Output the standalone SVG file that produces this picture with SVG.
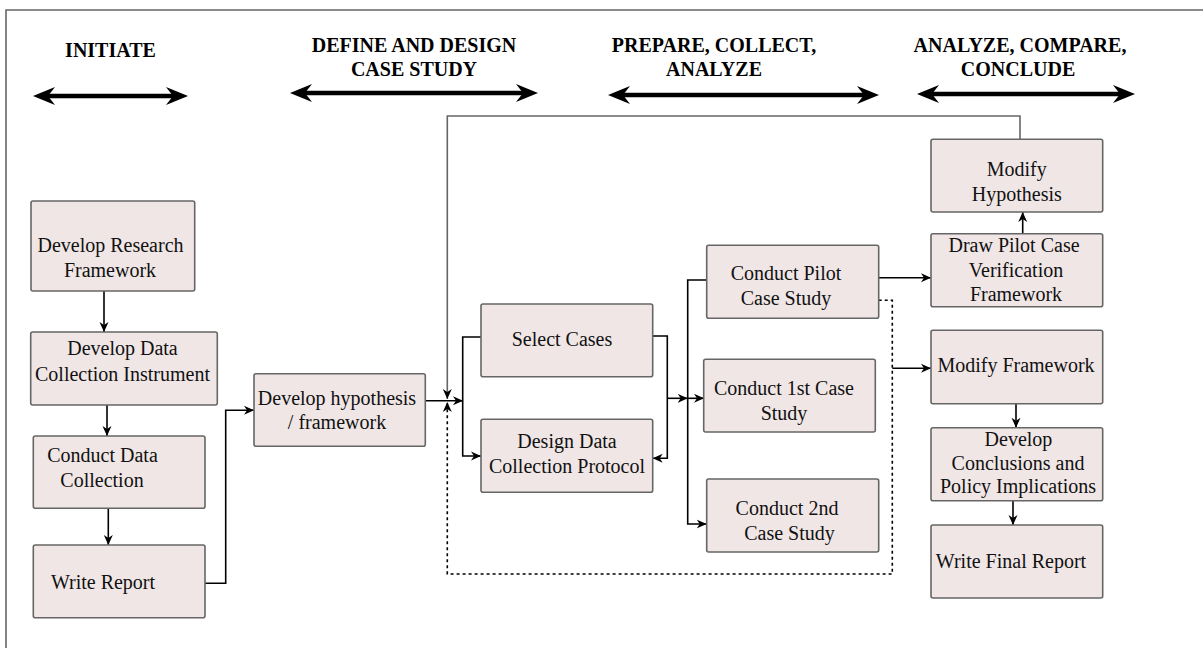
<svg xmlns="http://www.w3.org/2000/svg" width="1203" height="648" viewBox="0 0 1203 648">
<style>
.box{fill:#f0e6e6;stroke:#666;stroke-width:1.6}
.t{font-family:"Liberation Serif","Times New Roman",serif;font-size:20px;fill:#111;text-anchor:middle}
.h{font-family:"Liberation Serif","Times New Roman",serif;font-size:20px;font-weight:bold;fill:#000;text-anchor:middle}
.c{fill:none;stroke:#000;stroke-width:1.6}
.g{fill:none;stroke:#666;stroke-width:1.6}
.d{fill:none;stroke:#000;stroke-width:1.6;stroke-dasharray:3 3}
.big{fill:none;stroke:#000;stroke-width:4.5}
</style>
<defs>
<marker id="a" markerUnits="userSpaceOnUse" markerWidth="12" markerHeight="10" viewBox="0 -5 12 10" refX="10" refY="0" orient="auto">
<path d="M0,-4.5 L10,0 L0,4.5 L3,0 z" fill="#000"/>
</marker>
<marker id="b" markerUnits="userSpaceOnUse" markerWidth="24" markerHeight="20" viewBox="0 -10 24 20" refX="7" refY="0" orient="auto-start-reverse">
<path d="M0,-9 L22,0 L0,9 L7,0 z" fill="#000"/>
</marker>
</defs>
<rect x="0" y="0" width="1203" height="648" fill="#fff"/>
<path d="M6,648 V10 H1203" fill="none" stroke="#666" stroke-width="1.6"/>

<g id="headers">
<text class="h" x="110.5" y="57">INITIATE</text>
<text class="h" x="414" y="52">DEFINE AND DESIGN</text>
<text class="h" x="414" y="76">CASE STUDY</text>
<text class="h" x="714" y="52">PREPARE, COLLECT,</text>
<text class="h" x="714" y="76">ANALYZE</text>
<text class="h" x="1020" y="52">ANALYZE, COMPARE,</text>
<text class="h" x="1018" y="76">CONCLUDE</text>
<line class="big" x1="48" y1="96" x2="173" y2="96" marker-start="url(#b)" marker-end="url(#b)"/>
<line class="big" x1="305" y1="93" x2="523" y2="93" marker-start="url(#b)" marker-end="url(#b)"/>
<line class="big" x1="623" y1="95" x2="864" y2="95" marker-start="url(#b)" marker-end="url(#b)"/>
<line class="big" x1="932" y1="94" x2="1120" y2="94" marker-start="url(#b)" marker-end="url(#b)"/>
</g>

<g id="connectors">
<path class="c" d="M104,291 V332" marker-end="url(#a)"/>
<path class="c" d="M107,405 V436" marker-end="url(#a)"/>
<path class="c" d="M108.3,508.3 V545" marker-end="url(#a)"/>
<path class="c" d="M205,583.3 H225.7 V410.3 H254" marker-end="url(#a)"/>
<path class="c" d="M425.3,400.7 H463" marker-end="url(#a)"/>
<path class="c" d="M481,337 H462.7 V456 H481" marker-end="url(#a)"/>
<path class="c" d="M652.7,336 H667.3 V458.3 H652.7" marker-end="url(#a)"/>
<path class="c" d="M667.3,398.3 H687.7" marker-end="url(#a)"/>
<path class="c" d="M687.7,398.3 H704" marker-end="url(#a)"/>
<path class="c" d="M706.7,280 H687.7 V524 H706.7" marker-end="url(#a)"/>
<path class="c" d="M878.7,277.7 H931" marker-end="url(#a)"/>
<path class="d" d="M878.7,300.3 H892.3 V574 H447.3 V402" marker-end="url(#a)"/>
<path class="c" d="M892.3,368.3 H931" marker-end="url(#a)"/>
<path class="c" d="M1022.7,233.7 V212" marker-end="url(#a)"/>
<path class="g" d="M1020,139.3 V116 H447.3 V399" marker-end="url(#a)"/>
<path class="c" d="M1016,403.7 V427.7" marker-end="url(#a)"/>
<path class="c" d="M1013,500.7 V525" marker-end="url(#a)"/>
</g>

<g id="n1"><rect class="box" x="31" y="201" width="163.7" height="90" rx="2"/>
<text class="t" x="110.5" y="252.3">Develop Research</text><text class="t" x="110" y="277.3">Framework</text></g>
<g id="n2"><rect class="box" x="30.7" y="332" width="186.6" height="73" rx="2"/>
<text class="t" x="122.5" y="355">Develop Data</text><text class="t" x="122.5" y="380.7">Collection Instrument</text></g>
<g id="n3"><rect class="box" x="33.3" y="436" width="171.7" height="72.3" rx="2"/>
<text class="t" x="102.5" y="461.7">Conduct Data</text><text class="t" x="102" y="486.7">Collection</text></g>
<g id="n4"><rect class="box" x="33.3" y="545" width="171.7" height="72.7" rx="2"/>
<text class="t" x="103" y="589.3">Write Report</text></g>
<g id="n5"><rect class="box" x="254" y="373.7" width="171.3" height="72.6" rx="2"/>
<text class="t" x="337" y="405">Develop hypothesis</text><text class="t" x="337" y="429.3">/ framework</text></g>
<g id="n6"><rect class="box" x="481" y="304" width="171.7" height="72.7" rx="2"/>
<text class="t" x="562" y="345.7">Select Cases</text></g>
<g id="n7"><rect class="box" x="481" y="419.3" width="171.7" height="73" rx="2"/>
<text class="t" x="567" y="448.3">Design Data</text><text class="t" x="567" y="473.3">Collection Protocol</text></g>
<g id="n8"><rect class="box" x="706.7" y="245.3" width="172" height="73" rx="2"/>
<text class="t" x="786" y="280">Conduct Pilot</text><text class="t" x="786" y="305">Case Study</text></g>
<g id="n9"><rect class="box" x="703.7" y="359.3" width="171.6" height="72.7" rx="2"/>
<text class="t" x="784" y="395">Conduct 1st Case</text><text class="t" x="784" y="420">Study</text></g>
<g id="n10"><rect class="box" x="706.7" y="479" width="172" height="73" rx="2"/>
<text class="t" x="787" y="515">Conduct 2nd</text><text class="t" x="789.5" y="540">Case Study</text></g>
<g id="n11"><rect class="box" x="931" y="139.3" width="171.7" height="72.7" rx="2"/>
<text class="t" x="1016.7" y="176">Modify</text><text class="t" x="1016.8" y="200.7">Hypothesis</text></g>
<g id="n12"><rect class="box" x="931" y="233.7" width="171.7" height="73" rx="2"/>
<text class="t" x="1014" y="251.7">Draw Pilot Case</text><text class="t" x="1016" y="276.7">Verification</text><text class="t" x="1016" y="301">Framework</text></g>
<g id="n13"><rect class="box" x="931" y="330.3" width="171.7" height="73.4" rx="2"/>
<text class="t" x="1016" y="371.7">Modify Framework</text></g>
<g id="n14"><rect class="box" x="931" y="427.7" width="171.7" height="73" rx="2"/>
<text class="t" x="1018.5" y="445.7">Develop</text><text class="t" x="1018" y="470">Conclusions and</text><text class="t" x="1018" y="493.3">Policy Implications</text></g>
<g id="n15"><rect class="box" x="931" y="525" width="171.7" height="73" rx="2"/>
<text class="t" x="1011" y="568.3">Write Final Report</text></g>
</svg>
